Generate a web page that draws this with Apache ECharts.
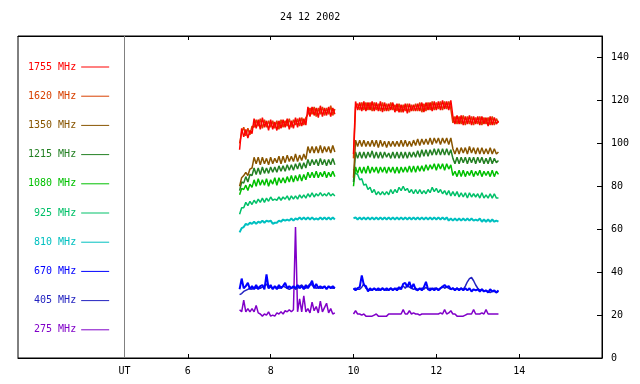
<!DOCTYPE html>
<html>
<head>
<meta charset="utf-8">
<script src="https://cdn.jsdelivr.net/npm/echarts@6/dist/echarts.min.js"></script>
<style>html,body{margin:0;padding:0;background:#fff}#c{width:640px;height:384px}</style>
</head>
<body>
<div id="c"></div>
<script>
const TITLE = '24 12 2002';
const X_TICKS = [6, 8, 10, 12, 14];
const Y_TICKS = [0, 20, 40, 60, 80, 100, 120, 140];
const UT_POS = 4.47;
const NAMES = ['1755 MHz','1620 MHz','1350 MHz','1215 MHz','1080 MHz','925 MHz','810 MHz','670 MHz','405 MHz','275 MHz'];
const COLORS = ['#ff0000','#d84000','#885500','#238023','#00c000','#00c068','#00c0c0','#0000ff','#2222c0','#8000c8'];
const WIDTHS = [1.5, 1.5, 1.5, 1.5, 1.5, 1.5, 2, 2, 1.5, 1.5];

const TIME_A = [7.25,7.3,7.35,7.4,7.45,7.5,7.55,7.6,7.65,7.7,7.75,7.8,7.85,7.9,7.95,8,8.05,8.1,8.15,8.2,8.25,8.3,8.35,8.4,8.45,8.5,8.55,8.6,8.65,8.7,8.75,8.8,8.85,8.9,8.95,9,9.05,9.1,9.15,9.2,9.25,9.3,9.35,9.4,9.45,9.5,9.55];
const TIME_B = [10,10.05,10.1,10.15,10.2,10.25,10.3,10.35,10.4,10.45,
10.5,10.55,10.6,10.65,10.7,10.75,10.8,10.85,10.9,10.95,
11,11.05,11.1,11.15,11.2,11.25,11.3,11.35,11.4,11.45,
11.5,11.55,11.6,11.65,11.7,11.75,11.8,11.85,11.9,11.95,
12,12.05,12.1,12.15,12.2,12.25,12.3,12.35,12.4,12.45,
12.5,12.55,12.6,12.65,12.7,12.75,12.8,12.85,12.9,12.95,
13,13.05,13.1,13.15,13.2,13.25,13.3,13.35,13.4,13.45,
13.5];

// 1755 MHz
const F1755_A = [97,107,103,106.5,102.5,106,104.5,111.5,107,111,106.5,112,107.5,110.5,106,111,106.5,110,106,110.5,107,111,107.5,111.5,106.5,110.5,107,112,107.5,112,108,111.5,108.5,117,112.5,117,113,116.5,112,117.5,112.5,116.5,113,117,112.5,116.5,113.5];
const F1755_B = [95,119.5,115.5,119,115,119.5,115,119,115.5,119.5,
115,119,115,119.5,114.5,119,115,118.5,115.5,119,
114.5,118.5,114.5,118,114.5,118.5,114,118.5,115,118,
115,118.5,115,119,114.5,119,115.5,119,115,119.5,
115.5,119.5,115.5,120,116,119.5,115.5,120,112.5,109,
113,109,113,108.5,112.5,109,113,108.5,112.5,109,
112.5,108.5,112.5,109,112,108,112.5,108.5,112,109,
110.5];
// 1620 MHz
const F1620_A = [100,105,107.5,103.5,107,104,108,107.5,111,108,111.5,107,111,107.5,110.5,107.5,110.5,107,110.5,106.5,111,107.5,110.5,108,111.5,107.5,111,108.5,111.5,108,112,108.5,112,113.5,116.5,113.5,117,112.5,116.5,113.5,117,113,116.5,113.5,117.5,113,116];
const F1620_B = [93,117,118.5,115.5,119,115.5,119,115.5,119,115,
119,115.5,118.5,115,119,115,118.5,115,119,115.5,
118,115,118.5,114.5,118,115,118.5,114.5,118,115,
118.5,115,119,114.5,118.5,115,119,115.5,119.5,115.5,
119,116,119.5,115.5,119.5,116,119.5,116,109.5,112.5,
109,112.5,109,113,108.5,112.5,109,112.5,108.5,112,
109,112.5,108.5,112,109,112,108.5,112.5,108.5,111.5,
109.5];
// 1350 MHz
const F1350_A = [80,84,85,86.5,85,88,88.5,93.5,90.5,93.5,90,93.5,90.5,93,90,93.5,90.5,93,91,94,90.5,94,91,94.5,91.5,94,91.5,95,91.5,94.5,92,95,92.5,98.5,95.5,98.5,95.5,98.5,95.5,99,95.5,98.5,96,98.5,95.5,99,96];
const F1350_B = [84,101.5,98.5,101.5,98.5,101.5,98.5,101,98.5,101.5,
98.5,101.5,98,101.5,98.5,101,98,101,98.5,101,
98.5,101,98.5,101.5,98.5,101.5,98.5,101,98.5,101.5,
99,102,99,102,99.5,102,99.5,102.5,99.5,102.5,
100,102.5,99.5,102.5,100,102.5,99.5,102.5,97.5,95,
98,95,98,95.5,98,95,98.5,95.5,98,95,
98,95,98,95,97.5,95,98,95,97.5,95,
96];
// 1215 MHz
const F1215_A = [78,82,81.5,84.5,82,85.5,85,88.5,85.5,88.5,85.5,89,86,88.5,86,89,86.5,89,86.5,89.5,87,89.5,87,90,87.5,90,87.5,90.5,88,91,88,91,88.5,92.5,89.5,92.5,90,92.5,89.5,93,90,92.5,89.5,92.5,90,93,90];
const F1215_B = [82,96,93,96,93,96,93,96,93.5,96.5,
93,96,93,96,93,96,93.5,95.5,93,96,
93,96,93,96,93,96,93,96,93.5,96,
93.5,96.5,93.5,97,94,97,94,97,94.5,97.5,
94.5,97.5,94.5,97.5,94.5,97.5,94.5,97,93,90.5,
93.5,90.5,93.5,91,93.5,90.5,93.5,91,93.5,90.5,
93.5,91,93.5,90.5,93,90.5,93.5,90.5,93,91,
92];
// 1080 MHz
const F1080_A = [76,79,78.5,80.5,78,81,79.5,83,80,83.5,80.5,83,80.5,83.5,80,83,81,84,80.5,84,81.5,84,81.5,84.5,82,85,82,85,82.5,85.5,82.5,85.5,83,86.5,84,86.5,84,87,84,86.5,84.5,87,84,86.5,84.5,87,84.5];
const F1080_B = [80,89,86,89,86,89,86,89.5,86,89,
86.5,89,86,89,86.5,89,86,89,86.5,89,
86,89,86,89,86.5,89,86.5,89.5,86.5,89.5,
86.5,89.5,87,89.5,87,90,87.5,90,88,90.5,
87.5,90.5,88,90.5,87.5,90.5,88,90,85,87,
84.5,87.5,84.5,87.5,84.5,87,85,87.5,84.5,87,
85,87.5,84.5,87,85,87,84.5,87.5,84.5,87,
85.5];
// 925 MHz
const F925_A = [67,70,70,72.5,71,73,71.5,73.5,72,74,72.5,74.5,72.5,74.5,73,75,73.5,74,73.5,75,73.5,75,74,75.5,73.5,75.5,74,75.5,74,76,74.5,76,74.5,76.5,75,77,75,76.5,75.5,77,75.5,76.5,75.5,77,75.5,76.5,75.5];
const F925_B = [88,86,85.5,83,83.5,80.5,81,78.5,79.5,77,
78.5,76,77.5,76,77.5,76,77.5,76,78.5,76.5,
78.5,77,79.5,78,80,78,79,77,78.5,76.5,
78.5,76.5,78.5,76.5,78,76.5,78.5,77,79.5,77.5,
79,77,78.5,76.5,78,76,78,75.5,77.5,75.5,
77.5,75,77,75,77,74.5,77,75,76.5,75,
76.5,74.5,77,74.5,76,74.5,76.5,74.5,76.5,74.5,
74.5];
// 810 MHz
const F810_A = [58.5,60.5,61,62.5,62,63,62.5,63.5,62.5,63.5,63,64,63,64,63.5,64,62.5,63,63,64,63.5,64.5,64,64.5,64,65,64,65,64.5,65.5,64.5,65.5,64.5,65.5,64.5,65.5,64.5,65,64.5,65.5,64.5,65.5,64.5,65.5,64.5,65.5,64.5];
const F810_B = [65,65.5,64.5,65.5,64.5,65.5,64.5,65.5,64.5,65.5,
64.5,65.5,64.5,65.5,64.5,65.5,64.5,65.5,64.5,65.5,
64.5,65.5,64.5,65.5,64.5,65.5,64.5,65.5,64.5,65.5,
64.5,65.5,64.5,65.5,64.5,65.5,64.5,65.5,64.5,65.5,
64.5,65.5,64.5,65.5,64.5,65.5,64,65,64,65,
64,65,64,65,64,65,64,65,64,64.5,
64,65,63.5,64.5,63.5,64.5,63.5,64.5,63.5,64,
63.5];
// 670 MHz
const F670_A = [32,37,32.5,33.5,35,32,33.5,32,34,32,33.5,34,32,39,32.5,34,32,33.5,32,34,32.5,33.5,35,32.5,33.5,32.5,33.5,32.5,34,32.5,33.5,32,34,32.5,34,36,32.5,34.5,32.5,33.5,32.5,33.5,32,33.5,32.5,33.5,32.5];
const F670_B = [32.5,31.5,32.5,33,38.5,34,33.5,31,32.5,31.5,
32.5,31.5,32.5,31.5,32.5,31.5,32.5,31.5,32.5,31.5,
32.5,31.5,33,32,34.5,35,33,35.5,32.5,34.5,
32,31.5,32.5,31.5,33,35.5,32,31.5,32.5,31.5,
32.5,31.5,32.5,33,34,33,33.5,32,32.5,31.5,
32.5,31.5,32.5,31.5,32.5,31.5,32.5,31,32,31.5,
32,31,32,31,31.5,30.5,32,31,31.5,30.5,
31.5];
// 405 MHz
const F405_A = [29.5,30,31,31.5,32,32.5,32,33,32.5,33,32.5,33,33.5,34.5,32.5,33,32.5,33,33,32.5,33,33.5,33,32.5,32,32.5,33,32,32.5,33.5,34,33,32.5,33.5,34.5,34,33,32.5,33,32.5,33,33,32.5,33,33,32.5,32.5];
const F405_B = [32,32.5,32,32,33,34.5,32.5,32,31.5,32,
32,32,31.5,32,32.5,32,31.5,32,32.5,32,
32,32.5,32,33,33.5,32.5,34,33,32.5,32,
32.5,32,32,32.5,32,33,32,32.5,32,32.5,
32.5,32,32.5,33.5,32.5,33,32.5,32,32.5,32,
32.5,32,32.5,32,33.5,35.5,37,37.5,36,34,
32.5,31.5,32,31,31.5,31,30.5,31,31,30.5,
31];
// 275 MHz
const F275_A = [22.5,21.5,27,21.5,23,21.5,23,21.5,24.5,21,20.5,19.5,20.5,20,21.5,19.5,20,19.5,21,20.5,21.5,20.5,22,21.5,22.5,21.5,22.5,61,21.5,27.5,21.5,29,21.5,23,21,26,22,24,21,26.5,21.5,23.5,25.5,21,23,20.5,21];
const F275_B = [20.5,22,20.5,20.5,20,20.5,19.5,19.5,19.5,19.5,
20,20.5,19.5,19.5,19.5,19.5,19.5,20.5,20.5,20.5,
20.5,20.5,20.5,20.5,22.5,20.5,20.5,22,20.5,21,
20.5,20.5,20,20.5,20.5,20.5,20.5,20.5,20.5,20.5,
20.5,20.5,21,20.5,22.5,20.5,21,22,20.5,20.5,
19.5,19.5,19.5,19.5,20,20.5,20.5,20.5,22.5,20.5,
20.5,20.5,21,20.5,22.5,20.5,20.5,20.5,20.5,20.5,
20.5];

const SERIES_A = [F1755_A,F1620_A,F1350_A,F1215_A,F1080_A,F925_A,F810_A,F670_A,F405_A,F275_A];
const SERIES_B = [F1755_B,F1620_B,F1350_B,F1215_B,F1080_B,F925_B,F810_B,F670_B,F405_B,F275_B];

const FONT = 'DejaVu Sans Mono';

function build(a, b) {
  return TIME_A.map((t, i) => [t, a[i]])
    .concat([[9.78, '-']])
    .concat(TIME_B.map((t, i) => [t, b[i]]));
}

const series = [];
for (let k = NAMES.length - 1; k >= 0; k--) {
  series.push({
    name: NAMES[k],
    type: 'line',
    symbol: 'none',
    showSymbol: false,
    color: COLORS[k],
    lineStyle: { width: WIDTHS[k], color: COLORS[k] },
    data: build(SERIES_A[k], SERIES_B[k]),
    animation: false,
    silent: true
  });
}
series[0].markLine = {
  silent: true,
  symbol: 'none',
  label: { show: false },
  lineStyle: { color: '#808080', type: 'solid', width: 1 },
  data: [{ xAxis: UT_POS }]
};

const chart = echarts.init(document.getElementById('c'), null, { renderer: 'canvas' });
chart.setOption({
  animation: false,
  backgroundColor: '#fff',
  title: {
    text: TITLE, left: 280, top: 12, padding: 0,
    textStyle: { fontFamily: FONT, fontSize: 10, fontWeight: 'normal', color: '#000' }
  },
  legend: {
    orient: 'vertical', left: 28, top: 60, padding: 0,
    align: 'right', itemGap: 15.2, itemWidth: 28, itemHeight: 1,
    icon: 'rect', selectedMode: false,
    textStyle: { fontFamily: FONT, fontSize: 10, lineHeight: 14 },
    data: NAMES.map((n, i) => ({ name: n, textStyle: { color: COLORS[i] } }))
  },
  grid: { left: 18, right: 38, top: 36, bottom: 26, show: true, borderColor: '#000', borderWidth: 1, containLabel: false },
  xAxis: [{
    type: 'value', min: 1.9, max: 16, position: 'bottom',
    axisLine: { show: true, onZero: false, lineStyle: { color: '#000', width: 1 } },
    axisTick: { show: true, inside: true, length: 4, customValues: X_TICKS, lineStyle: { color: '#000' } },
    axisLabel: {
      customValues: [UT_POS].concat(X_TICKS),
      formatter: v => (Math.abs(v - UT_POS) < 1e-6 ? 'UT' : String(v)),
      fontFamily: FONT, fontSize: 10, color: '#000', margin: 8
    },
    splitLine: { show: false }
  }, {
    type: 'value', min: 1.9, max: 16, position: 'top',
    axisLine: { show: true, onZero: false, lineStyle: { color: '#000', width: 1 } },
    axisTick: { show: true, inside: true, length: 4, customValues: X_TICKS, lineStyle: { color: '#000' } },
    axisLabel: { show: false },
    splitLine: { show: false }
  }],
  yAxis: {
    type: 'value', min: 0, max: 150, position: 'right',
    axisLine: { show: true, onZero: false, lineStyle: { color: '#000', width: 1 } },
    axisTick: { show: true, inside: true, length: 5, customValues: Y_TICKS, lineStyle: { color: '#000' } },
    axisLabel: { customValues: Y_TICKS, fontFamily: FONT, fontSize: 10, color: '#000', margin: 9 },
    splitLine: { show: false }
  },
  series: series
});
</script>
</body>
</html>
